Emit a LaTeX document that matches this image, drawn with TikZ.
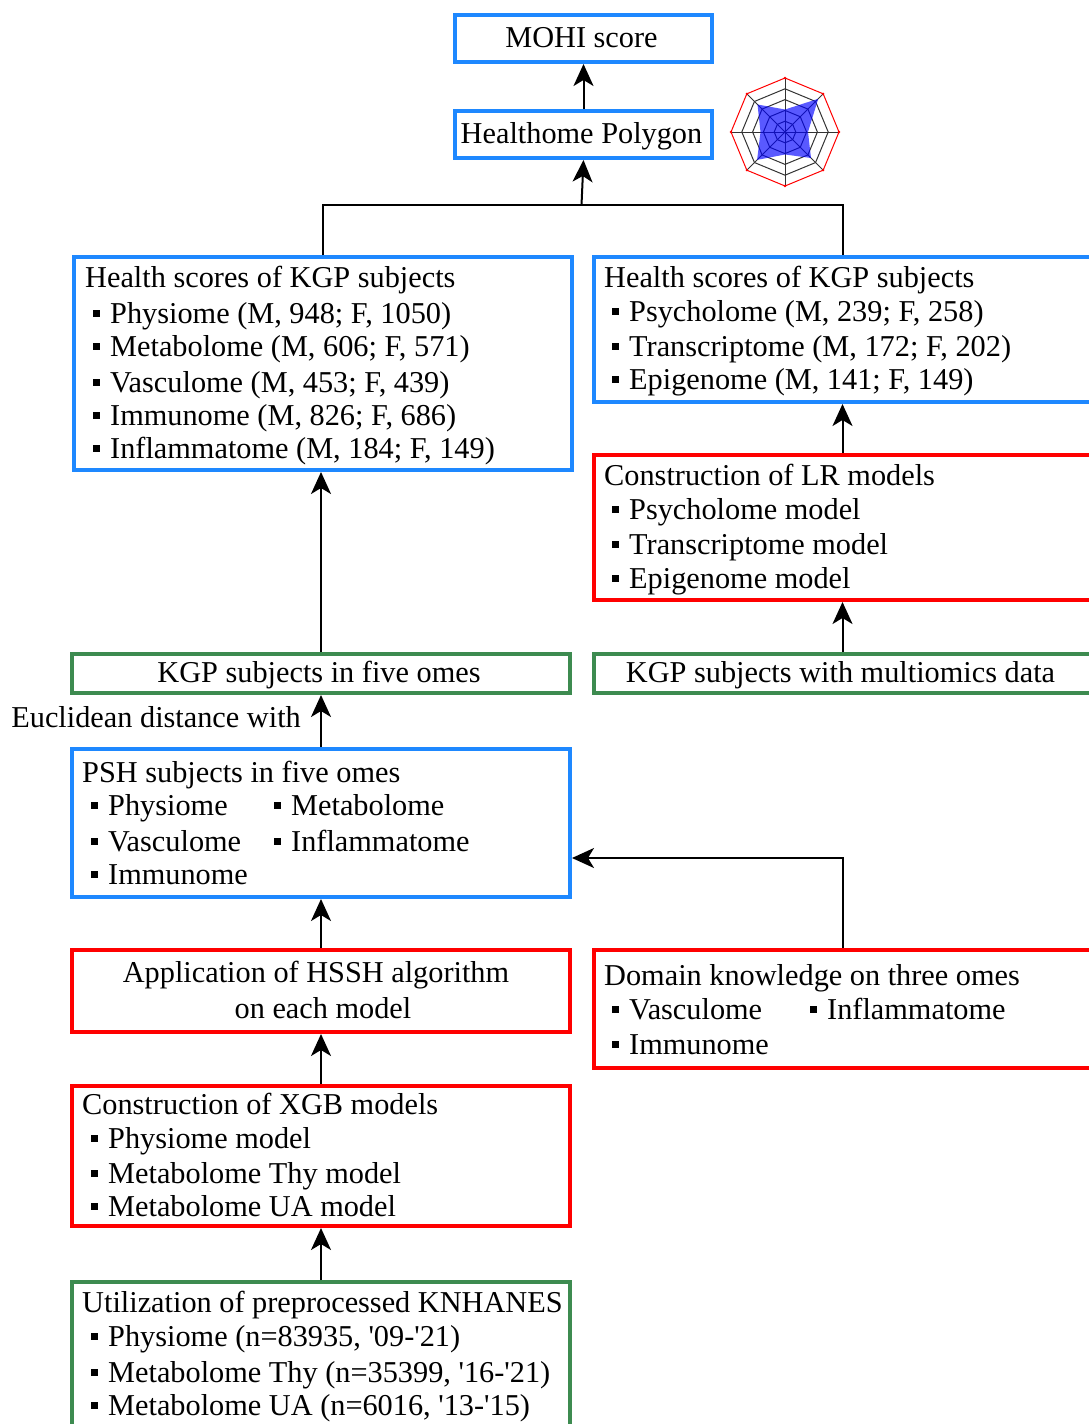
\documentclass[tikz,border=0pt]{standalone}
\usepackage{fontspec}
\setmainfont{Liberation Serif}
\usetikzlibrary{arrows.meta}
\definecolor{bblue}{RGB}{30,136,255}
\definecolor{rred}{RGB}{255,0,0}
\definecolor{ggreen}{RGB}{61,139,80}
\newcommand\bul{\rule[6pt]{7pt}{7pt}\hspace{10pt}}
\begin{document}
\begin{tikzpicture}[x=1pt,y=-1pt,
  box/.style={draw,line width=4pt,inner sep=0pt,anchor=north west},
  bluebox/.style={box,draw=bblue},
  redbox/.style={box,draw=rred},
  greenbox/.style={box,draw=ggreen},
  txt/.style={anchor=base west,inner sep=0pt,font=\fontsize{30.3}{36}\selectfont},
  ctxt/.style={txt,anchor=base},
  conn/.style={line width=2pt,black},
  arr/.style={conn,-{Stealth[length=22pt,width=20pt,inset=6pt]}}
]
\useasboundingbox (0,0) rectangle (1089,1424);
\clip (0,0) rectangle (1089,1424);

% boxes
\node[bluebox,minimum width=257pt,minimum height=47pt] (mohi) at (453,13) {};
\node[bluebox,minimum width=257pt,minimum height=47pt] (poly) at (453,109) {};
\node[bluebox,minimum width=498pt,minimum height=213pt] (lhs) at (72,255) {};
\node[bluebox,minimum width=497pt,minimum height=145pt] (rhs) at (592,255) {};
\node[redbox,minimum width=497pt,minimum height=145pt] (lr) at (592,453) {};
\node[greenbox,minimum width=497pt,minimum height=39pt] (kgpm) at (592,652) {};
\node[greenbox,minimum width=498pt,minimum height=39pt] (kgp5) at (70,652) {};
\node[bluebox,minimum width=498pt,minimum height=148pt] (psh) at (70,747) {};
\node[redbox,minimum width=498pt,minimum height=82pt] (app) at (70,948) {};
\node[redbox,minimum width=497pt,minimum height=118pt] (dom) at (592,948) {};
\node[redbox,minimum width=498pt,minimum height=140pt] (xgb) at (70,1084) {};
\node[greenbox,minimum width=498pt,minimum height=160pt] (util) at (70,1280) {};

% texts
\node[ctxt] (t-mohi) at (581.5,47) {MOHI score};
\node[ctxt] (t-poly) at (581.5,143) {Healthome Polygon};

\node[txt] (l0) at (85,287) {Health scores of KGP subjects};
\node[txt] (l1) at (93,323) {\bul Physiome (M, 948; F, 1050)};
\node[txt] (l2) at (93,356) {\bul Metabolome (M, 606; F, 571)};
\node[txt] (l3) at (93,392) {\bul Vasculome (M, 453; F, 439)};
\node[txt] (l4) at (93,425) {\bul Immunome (M, 826; F, 686)};
\node[txt] (l5) at (93,458) {\bul Inflammatome (M, 184; F, 149)};

\node[txt] (r0) at (604,287) {Health scores of KGP subjects};
\node[txt] (r1) at (612,321) {\bul Psycholome (M, 239; F, 258)};
\node[txt] (r2) at (612,356) {\bul Transcriptome (M, 172; F, 202)};
\node[txt] (r3) at (612,389) {\bul Epigenome (M, 141; F, 149)};

\node[txt] (m0) at (604,485) {Construction of LR models};
\node[txt] (m1) at (612,519) {\bul Psycholome model};
\node[txt] (m2) at (612,554) {\bul Transcriptome model};
\node[txt] (m3) at (612,588) {\bul Epigenome model};

\node[ctxt] (t-kgp5) at (319,682) {KGP subjects in five omes};
\node[ctxt] (t-kgpm) at (840.5,682) {KGP subjects with multiomics data};
\node[txt,anchor=base east] (eu) at (301,727) {Euclidean distance with};

\node[txt] (p0) at (82,782) {PSH subjects in five omes};
\node[txt] (p1) at (91,815) {\bul Physiome};
\node[txt] (p2) at (274,815) {\bul Metabolome};
\node[txt] (p3) at (91,851) {\bul Vasculome};
\node[txt] (p4) at (274,851) {\bul Inflammatome};
\node[txt] (p5) at (91,884) {\bul Immunome};

\node[ctxt] (a1) at (316,982) {Application of HSSH algorithm};
\node[ctxt] (a2) at (323,1018) {on each model};

\node[txt] (d0) at (604,985) {Domain knowledge on three omes};
\node[txt] (d1) at (612,1019) {\bul Vasculome};
\node[txt] (d2) at (810,1019) {\bul Inflammatome};
\node[txt] (d3) at (612,1054) {\bul Immunome};

\node[txt] (x0) at (82,1114) {Construction of XGB models};
\node[txt] (x1) at (91,1148) {\bul Physiome model};
\node[txt] (x2) at (91,1183) {\bul Metabolome Thy model};
\node[txt] (x3) at (91,1216) {\bul Metabolome UA model};

\node[txt] (u0) at (82,1312) {Utilization of preprocessed KNHANES};
\node[txt] (u1) at (91,1346) {\bul Physiome (n=83935, \textquotesingle 09-\textquotesingle 21)};
\node[txt] (u2) at (91,1382) {\bul Metabolome Thy (n=35399, \textquotesingle 16-\textquotesingle 21)};
\node[txt] (u3) at (91,1415) {\bul Metabolome UA (n=6016, \textquotesingle 13-\textquotesingle 15)};

% connectors
\coordinate (jn) at (581.5,205);
\coordinate (dk) at (840.5,858);
\draw[arr] (poly.north) -- (mohi.south);
\draw[conn] (lhs.north) |- (jn) -| (rhs.north);
\draw[arr] (jn) -- (poly.south);
\draw[arr] (lr.north) -- (rhs.south);
\draw[arr] (kgpm.north) -- (lr.south);
\draw[arr] (kgp5.north) -- (kgp5.north |- lhs.south);
\draw[arr] (psh.north) -- (kgp5.south);
\draw[arr] (app.north) -- (psh.south);
\draw[arr] (xgb.north) -- (app.south);
\draw[arr] (util.north) -- (xgb.south);
\draw[arr] (dom.north) |- (psh.east |- dk);

% radar polygon icon
\foreach \r in {10.8,21.6,32.4,43.2}
  \draw[black!80,line width=1pt] plot[samples at={90,135,...,405}] ({785+\r*cos(\x)},{132-\r*sin(\x)}) -- cycle;
\foreach \a in {0,45,...,315}
  \draw[black!80,line width=1pt] (785,132) -- ({785+54*cos(\a)},{132-54*sin(\a)});
\draw[red,line width=1pt] plot[samples at={90,135,...,405}] ({785+54*cos(\x)},{132-54*sin(\x)}) -- cycle;
\foreach \a in {0,45,...,315}
  \fill[red] ({785+54*cos(\a)},{132-54*sin(\a)}) circle (1.3pt);
\fill[blue,opacity=0.65] (785,109.5) -- (818.2,98.8) -- (808,132) -- (811,158)
  -- (785,154.5) -- (757.1,159.9) -- (760.5,132) -- (757.5,104.5) -- cycle;
\end{tikzpicture}
\end{document}
